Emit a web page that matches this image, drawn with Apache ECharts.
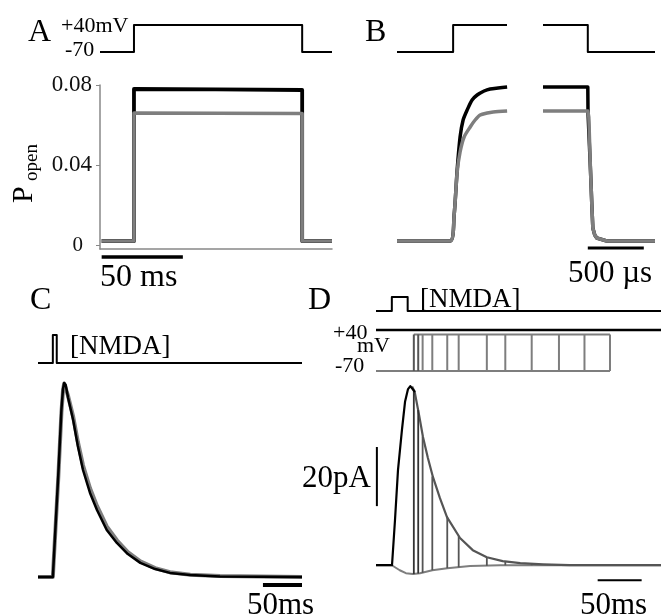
<!DOCTYPE html>
<html>
<head>
<meta charset="utf-8">
<script src="https://cdn.jsdelivr.net/npm/echarts@6/dist/echarts.min.js"></script>
<style>
  html, body { margin: 0; padding: 0; background: #fff; }
  #chart { width: 661px; height: 616px; }
</style>
</head>
<body>
<div id="chart"></div>
<script>
// ---- A: 100 ms step from -70 to +40 mV, open probability (time in ms) ----
var stepA_t  = [0, 20.5, 20.5, 122, 122, 140];
var stepA_mV = [-70, -70, 40, 40, -70, -70];
var popenA_t     = [1, 20.5, 20.5, 70, 122, 122, 140];
var popenA_black = [0.002, 0.002, 0.078, 0.0778, 0.0775, 0.002, 0.002];
var popenA_gray  = [0.002, 0.002, 0.066, 0.0659, 0.0657, 0.002, 0.002];
var popenA_ticks = [0, 0.04, 0.08];

// ---- B: onset and offset of the same step (time in µs) ----
var stepBon_t   = [-500, 0, 0, 480];
var stepBon_mV  = [-70, -70, 40, 40];
var stepBoff_t  = [-400, 0, 0, 600];
var stepBoff_mV = [40, 40, -70, -70];
var onB_blackT = [-500, -27, 9, 36, 62, 89, 125, 169, 214, 276, 330, 401, 481];
var onB_black  = [0.002, 0.002, 0.015, 0.0375, 0.054, 0.0625, 0.0675, 0.0725, 0.075, 0.077, 0.078, 0.0785, 0.079];
var onB_grayT  = [-500, -27, 9, 36, 62, 98, 152, 196, 241, 304, 357, 481];
var onB_gray   = [0.002, 0.002, 0.015, 0.0365, 0.0465, 0.054, 0.059, 0.0625, 0.065, 0.066, 0.0665, 0.067];
var offB_blackT = [-400, 0, 2, 24, 36, 45, 62, 80, 170, 600];
var offB_black  = [0.079, 0.079, 0.066, 0.0375, 0.02, 0.0085, 0.005, 0.0035, 0.002, 0.002];
var offB_grayT  = [-400, 0, 9, 24, 36, 45, 62, 80, 170, 600];
var offB_gray   = [0.067, 0.067, 0.064, 0.0375, 0.02, 0.0085, 0.005, 0.0035, 0.002, 0.002];

// ---- C: brief [NMDA] pulse, current (time in ms, current in pA) ----
var pulseC_t = [0, 19, 19, 24, 24, 338];
var pulseC   = [0, 0, 1, 1, 0, 0];
var iC_t     = [0, 19, 26, 30, 32, 33.5, 35.5, 38.5, 45, 51, 57.6, 66.6, 75.5, 88, 101, 115, 131, 150, 169, 195, 233, 338];
var iC_black = [0, 0, 35, 57, 64, 66, 65.3, 61, 53.4, 44.6, 36.4, 28.6, 22.8, 16, 11.6, 7.8, 4.8, 2.7, 1.4, 0.7, 0.2, 0];
var iC_gray  = [0, 0, 34, 56, 63.5, 65.8, 65.4, 61.6, 54.6, 46, 38, 30.2, 24.2, 17.2, 12.5, 8.5, 5.3, 3, 1.6, 0.8, 0.3, 0];

// ---- D: [NMDA] pulse with steps back to -70 mV at increasing times ----
var pulseD_t = [0, 18, 18, 36, 36, 324];
var pulseD   = [0, 0, 1, 1, 0, 0];
var holdD_t  = [0, 324];
var holdD_mV = [40, 40];
var stepsD_t = [43, 48, 53, 64, 81, 94, 126, 147, 177, 208, 237, 266];
var stepsD_mV = [28, -70];   // grey copies of the +40 -> -70 steps
var iD_riseT = [0, 18.2, 21.6, 25, 29.5, 33, 36.4, 39, 41, 44.3];
var iD_rise  = [0, 0, 15.3, 32.2, 45.8, 55.3, 59.6, 60.6, 60.5, 58.6];
var iD_decT  = [41, 44, 49, 53.4, 59, 64.8, 72.7, 80.7, 95.5, 110, 126, 144, 164, 190, 220, 324];
var iD_dec   = [60.5, 58.6, 50.8, 43.4, 36.3, 29.8, 22.7, 16.3, 9.2, 5.1, 2.7, 1.4, 0.7, 0.3, 0, 0];
var iD_lowT  = [0, 18, 27, 34, 42, 50, 64, 81, 107, 141, 324];
var iD_low   = [0, 0, -1.7, -2.7, -3, -2.7, -1.7, -1, -0.3, 0, 0];
var iD_stepTop = [59, 52.5, 43.5, 30, 16.3, 9.8, 2.7, 1.2, 0.5, 0.2, 0.1, 0];
var iD_stepBot = [-3, -2.8, -2.6, -1.7, -1, -0.7, -0.2, 0, 0, 0, 0, 0];

// scale bars
var barA_ms  = [1, 50],   barA_at = -0.006;
var barB_us  = [0, 500],  barB_at = -0.0015;
var barC_ms  = [288, 338], barC_at = -2.7;
var barD_ms  = [252, 302], barD_at = -5.1;
var barD_pA  = [20, 40],   barD_t = 1;

var BLACK = '#000', GRAY = '#7e7e7e';
var serif = '"Liberation Serif", "DejaVu Serif", serif';

var grids = [
  { left: 100, top: 25,  width: 232, height: 27 },  // 0 A voltage
  { left: 100, top: 85,  width: 232, height: 164 }, // 1 A Popen
  { left: 397, top: 25,  width: 110, height: 27 },  // 2 B onset voltage
  { left: 397, top: 85,  width: 110, height: 164 }, // 3 B onset Popen
  { left: 543, top: 25,  width: 112, height: 27 },  // 4 B offset voltage
  { left: 543, top: 85,  width: 112, height: 164 }, // 5 B offset Popen
  { left: 38,  top: 335, width: 264, height: 28 },  // 6 C [NMDA]
  { left: 38,  top: 383, width: 264, height: 194 }, // 7 C current
  { left: 376, top: 297, width: 285, height: 14 },  // 8 D [NMDA]
  { left: 376, top: 330, width: 285, height: 41 },  // 9 D voltage
  { left: 376, top: 382, width: 285, height: 198 }  // 10 D current
];
var xRange = [[0,140],[0,140],[-500,480],[-500,480],[-400,600],[-400,600],[0,338],[0,338],[0,324],[0,324],[0,324]];
var yRange = [[-70,40],[-0.002,0.08],[-70,40],[-0.002,0.08],[-70,40],[-0.002,0.08],[0,1],[0,66],[0,1],[-70,40],[-5,62]];

function pts(xs, ys) {
  return xs.map(function (x, i) { return [x, ys[i]]; });
}
function trace(g, data, color, width, z, smooth) {
  return {
    type: 'line', xAxisIndex: g, yAxisIndex: g, data: data,
    symbol: 'none', clip: false, silent: true, z: z || 2,
    smooth: smooth || false,
    lineStyle: { color: color, width: width, join: 'round', cap: 'butt' }
  };
}

var xAxes = grids.map(function (gr, i) {
  var ax = { type: 'value', gridIndex: i, min: xRange[i][0], max: xRange[i][1], show: false };
  if (i === 1) {
    ax.show = true;
    ax.axisLine = { show: true, onZero: false, lineStyle: { color: '#888', width: 1.5 } };
    ax.axisTick = { show: false };
    ax.axisLabel = { show: false };
    ax.splitLine = { show: false };
  }
  return ax;
});
var yAxes = grids.map(function (gr, i) {
  var ax = { type: 'value', gridIndex: i, min: yRange[i][0], max: yRange[i][1], show: false };
  if (i === 1) {
    ax.show = true;
    ax.axisLine = { show: true, lineStyle: { color: '#888', width: 1.5 } };
    ax.axisTick = { show: true, customValues: popenA_ticks, length: 4, lineStyle: { color: '#888' } };
    ax.axisLabel = {
      customValues: popenA_ticks, margin: 8, color: '#111',
      fontFamily: serif, fontSize: 23,
      formatter: function (v) { return v === 0 ? '{z|0}' : v.toFixed(2); },
      rich: { z: { fontFamily: serif, fontSize: 21, color: '#111', padding: [0, 9, 0, 0] } }
    };
    ax.splitLine = { show: false };
  }
  return ax;
});

var series = [
  // A
  trace(0, pts(stepA_t, stepA_mV), BLACK, 2),
  trace(1, pts(popenA_t, popenA_black), BLACK, 3.8, 2),
  trace(1, pts(popenA_t, popenA_gray), GRAY, 3.5, 3),
  trace(1, pts(barA_ms, [barA_at, barA_at]), BLACK, 3.5),
  // B
  trace(2, pts(stepBon_t, stepBon_mV), BLACK, 2),
  trace(4, pts(stepBoff_t, stepBoff_mV), BLACK, 2),
  trace(3, pts(onB_blackT, onB_black), BLACK, 3.5, 2, 0.25),
  trace(3, pts(onB_grayT, onB_gray), GRAY, 3.5, 3, 0.25),
  trace(5, pts(offB_blackT, offB_black), BLACK, 3.5, 2),
  trace(5, pts(offB_grayT, offB_gray), GRAY, 3.5, 3),
  trace(5, pts(barB_us, [barB_at, barB_at]), BLACK, 3),
  // C
  trace(6, pts(pulseC_t, pulseC), BLACK, 2),
  trace(7, pts(iC_t, iC_gray), GRAY, 4, 2),
  trace(7, pts(iC_t, iC_black), BLACK, 2.5, 3),
  trace(7, pts(barC_ms, [barC_at, barC_at]), BLACK, 4),
  // D
  trace(8, pts(pulseD_t, pulseD), BLACK, 2),
  trace(9, pts(holdD_t, holdD_mV), BLACK, 2.5, 3),
  trace(9, pts([0, stepsD_t[stepsD_t.length - 1]], [stepsD_mV[1], stepsD_mV[1]]), GRAY, 2),
  trace(9, pts([stepsD_t[0], stepsD_t[stepsD_t.length - 1]], [stepsD_mV[0], stepsD_mV[0]]), GRAY, 2),
  trace(10, pts(iD_lowT, iD_low), GRAY, 2),
  trace(10, pts(iD_decT, iD_dec), '#555', 2.2, 3),
  trace(10, pts(iD_riseT, iD_rise), BLACK, 2.2, 4),
  trace(10, pts(barD_ms, [barD_at, barD_at]), BLACK, 2),
  trace(10, pts([barD_t, barD_t], barD_pA), BLACK, 2)
];
stepsD_t.forEach(function (t, i) {
  series.push(trace(9, pts([t, t], stepsD_mV), i < 2 ? '#555' : GRAY, 2));
  series.push(trace(10, pts([t, t], [iD_stepBot[i], iD_stepTop[i]]), i < 2 ? '#333' : '#555', 1.8, 3));
});

function label(text, x, baseline, size) {
  return {
    type: 'text', x: x, y: baseline - 0.3 * size, silent: true, z: 10,
    style: { text: text, x: 0, y: 0, fill: '#000', font: size + 'px ' + serif,
             align: 'left', verticalAlign: 'middle', textAlign: 'left', textVerticalAlign: 'middle' }
  };
}

var graphics = [
  label('A', 28, 42, 32),
  label('+40mV', 61, 33, 22),
  label('-70', 65, 57, 22),
  label('B', 365, 42, 32),
  label('50 ms', 100, 287, 32),
  label('500 \u00b5s', 568, 283, 31),
  label('C', 30, 310, 32),
  label('[NMDA]', 70, 355, 27),
  label('50ms', 247, 615, 31),
  label('D', 308, 310, 32),
  label('[NMDA]', 420, 308, 27),
  label('+40', 333, 340, 22),
  label('mV', 357, 353, 22),
  label('-70', 335, 373, 22),
  label('20pA', 302, 488, 31),
  label('50ms', 580, 615, 31),
  { type: 'text', x: 24, y: 203, rotation: Math.PI / 2, silent: true, z: 10,
    style: { text: 'P', x: 0, y: 0, fill: '#000', font: '30px ' + serif,
             align: 'left', verticalAlign: 'middle', textAlign: 'left', textVerticalAlign: 'middle' } },
  { type: 'text', x: 32, y: 181, rotation: Math.PI / 2, silent: true, z: 10,
    style: { text: 'open', x: 0, y: 0, fill: '#000', font: '19px ' + serif,
             align: 'left', verticalAlign: 'middle', textAlign: 'left', textVerticalAlign: 'middle' } }
];

var chart = echarts.init(document.getElementById('chart'), null, { renderer: 'canvas' });
chart.setOption({
  backgroundColor: '#fff',
  animation: false,
  grid: grids,
  xAxis: xAxes,
  yAxis: yAxes,
  series: series,
  graphic: graphics
});
</script>
</body>
</html>
